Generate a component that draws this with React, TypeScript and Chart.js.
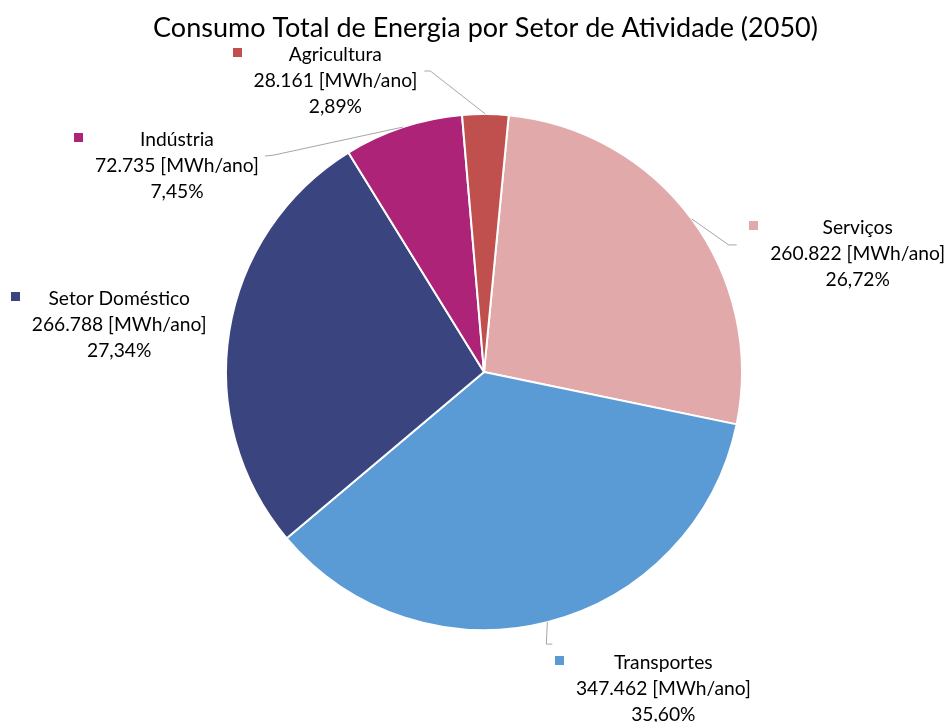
import React, { useEffect, useRef } from "react";
import { Chart, registerables } from "chart.js";

Chart.register(...registerables);

const TITLE = "Consumo Total de Energia por Setor de Atividade (2050)";
const categories = ["Serviços", "Transportes", "Setor Doméstico", "Indústria", "Agricultura"];
const values = [260822, 347462, 266788, 72735, 28161];
const UNIT = "[MWh/ano]";
const colors = ["#E1A9A9", "#5B9BD5", "#3A4580", "#AD2378", "#C0504D"];

// label placement relative to the slice's outer mid-point (style only)
const labelLayout = [
  { dx: 166, dy: 15, line: [[37, 26], [45, 26]] },
  { dx: 116, dy: 47, line: [[-1, 22], [5, 22]] },
  { dx: -110, dy: -26, line: null },
  { dx: -226, dy: 19, line: [[-129, 28], [-138, 29]] },
  { dx: -150, dy: -53, line: [[-55, -43], [-61, -43]] },
];

const FONT = "Lato, 'Noto Sans', sans-serif";

function fmtThousands(v: number): string {
  const s = String(Math.round(v));
  return s.replace(/\B(?=(\d{3})+(?!\d))/g, ".");
}
function fmtPct(v: number, total: number): string {
  return ((v / total) * 100).toFixed(2).replace(".", ",") + "%";
}
function fitSize(ctx: CanvasRenderingContext2D, text: string, width: number, weight = "normal"): number {
  ctx.font = `${weight} 100px ${FONT}`;
  const w = ctx.measureText(text).width;
  return (100 * width) / w;
}

const labelsPlugin = {
  id: "customLabels",
  afterDraw(chart: any) {
    const ctx: CanvasRenderingContext2D = chart.ctx;
    const total = values.reduce((a, b) => a + b, 0);
    ctx.save();
    // title
    const tSize = fitSize(ctx, TITLE, 665);
    ctx.font = `normal ${tSize}px ${FONT}`;
    ctx.fillStyle = "#000";
    ctx.textAlign = "center";
    ctx.textBaseline = "alphabetic";
    ctx.fillText(TITLE, 485.5, 37);

    const lSize = fitSize(ctx, "347.462 " + UNIT, 175);
    const meta = chart.getDatasetMeta(0);
    meta.data.forEach((arc: any, i: number) => {
      const p = arc.getProps(["x", "y", "startAngle", "endAngle", "outerRadius"], true);
      const mid = (p.startAngle + p.endAngle) / 2;
      const ax = p.x + Math.cos(mid) * p.outerRadius;
      const ay = p.y + Math.sin(mid) * p.outerRadius;
      const lay = labelLayout[i];
      if (lay.line) {
        ctx.strokeStyle = "#A6A6A6";
        ctx.lineWidth = 1;
        ctx.beginPath();
        ctx.moveTo(ax, ay);
        lay.line.forEach(([dx, dy]) => ctx.lineTo(ax + dx, ay + dy));
        ctx.stroke();
      }
      const cx = ax + lay.dx;
      const by = ay + lay.dy;
      const lines = [categories[i], fmtThousands(values[i]) + " " + UNIT, fmtPct(values[i], total)];
      ctx.font = `normal ${lSize}px ${FONT}`;
      ctx.fillStyle = "#000";
      ctx.textAlign = "center";
      let maxW = 0;
      lines.forEach((t, k) => {
        maxW = Math.max(maxW, ctx.measureText(t).width);
        ctx.fillText(t, cx, by + k * 26);
      });
      ctx.fillStyle = colors[i];
      ctx.fillRect(Math.round(cx - maxW / 2 - 21), Math.round(by - 13), 9, 9);
    });
    ctx.restore();
  },
};

export default function App() {
  const ref = useRef<HTMLCanvasElement>(null);
  useEffect(() => {
    document.body.style.margin = "0";
    const chart = new Chart(ref.current!, {
      type: "pie",
      data: {
        labels: categories,
        datasets: [
          {
            data: values,
            backgroundColor: colors,
            borderColor: "#FFFFFF",
            borderWidth: 2,
            hoverOffset: 0,
          },
        ],
      },
      options: {
        responsive: false,
        animation: false,
        rotation: 5.5,
        layout: { padding: { left: 225, right: 204, top: 113, bottom: 91 } },
        plugins: {
          legend: { display: false },
          title: { display: false },
          tooltip: { enabled: false },
        },
        events: [],
      },
      plugins: [labelsPlugin],
    });
    return () => chart.destroy();
  }, []);
  return (
    <div style={{ position: "fixed", left: 0, top: 0, width: 947, height: 722, background: "#fff" }}>
      <canvas ref={ref} width={947} height={722} style={{ width: 947, height: 722 }} />
    </div>
  );
}
